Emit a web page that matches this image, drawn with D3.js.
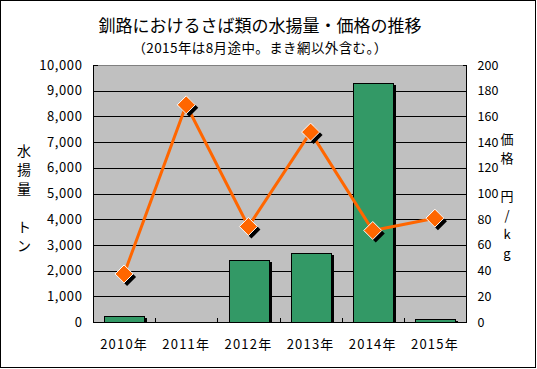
<!DOCTYPE html>
<html><head><meta charset="utf-8">
<script src="https://cdn.jsdelivr.net/npm/d3@7"></script>
<style>html,body{margin:0;padding:0;background:#fff;}svg{display:block;}</style>
</head><body>
<script>
const categories = ["2010年","2011年","2012年","2013年","2014年","2015年"];
const landings = [235, 0, 2405, 2680, 9300, 105];
const prices = [37.4, 169, 74.3, 147.8, 71.2, 80.8];
const leftTicks = [0,1000,2000,3000,4000,5000,6000,7000,8000,9000,10000];
const rightTicks = [0,20,40,60,80,100,120,140,160,180,200];
const title = "釧路におけるさば類の水揚量・価格の推移";
const subtitle = "（2015年は8月途中。まき網以外含む。）";
const leftTitle = ["水","揚","量","","ト","ン"];
const rightTitle = ["価","格","","円","/","k","g"];

const W = 537, H = 369;
const P = {l: 93, r: 466, t: 65, b: 322};
const font = "'Noto Sans CJK JP', sans-serif";

const svg = d3.select("body").append("svg").attr("width", W).attr("height", H);
svg.append("rect").attr("x",0.5).attr("y",0.5).attr("width",W-2).attr("height",H-2)
  .attr("fill","#fff").attr("stroke","#000").attr("shape-rendering","crispEdges");

const x = d3.scaleBand().domain(categories).range([P.l, P.r]).paddingInner(0.36).paddingOuter(0.18);
const xb = d3.scaleBand().domain(categories).range([P.l, P.r]);
const yL = d3.scaleLinear().domain([0, 10000]).range([P.b, P.t]);
const yR = d3.scaleLinear().domain([0, 200]).range([P.b, P.t]);

// plot area
svg.append("rect").attr("x",P.l).attr("y",P.t).attr("width",P.r-P.l).attr("height",P.b-P.t)
  .attr("fill","#C0C0C0").attr("stroke","#808080").attr("shape-rendering","crispEdges");

// gridlines
svg.append("g").selectAll("line").data(leftTicks.filter(d => d > 0 && d < 10000)).join("line")
  .attr("x1",P.l).attr("x2",P.r).attr("y1",d => Math.round(yL(d))+0.5).attr("y2",d => Math.round(yL(d))+0.5)
  .attr("stroke","#000").attr("stroke-width",1);

// bars with shadow
const bars = svg.append("g");
categories.forEach((c,i) => {
  const v = landings[i];
  if (v <= 0) return;
  const bx = Math.round(x(c)), bw = Math.round(x.bandwidth());
  const by = Math.round(yL(v)), bh = Math.round(yL(0)) - by;
  bars.append("rect").attr("x",bx+3).attr("y",by+2).attr("width",bw).attr("height",Math.max(0,bh-2))
    .attr("fill","#000").attr("shape-rendering","crispEdges");
  bars.append("rect").attr("x",bx+0.5).attr("y",by+0.5).attr("width",bw).attr("height",bh)
    .attr("fill","#339966").attr("stroke","#000").attr("stroke-width",1).attr("shape-rendering","crispEdges");
});

// axes
const axL = d3.axisLeft(yL).tickValues(leftTicks).tickSize(-4).tickPadding(11).tickFormat(d3.format(","));
const gL = svg.append("g").attr("transform",`translate(${P.l+0.5},0)`).call(axL);
const axR = d3.axisRight(yR).tickValues(rightTicks).tickSize(-4).tickPadding(11);
const gR = svg.append("g").attr("transform",`translate(${P.r+0.5},0)`).call(axR);
const axB = d3.axisBottom(xb).tickSize(0).tickPadding(20);
const gB = svg.append("g").attr("transform",`translate(0,${P.b+0.5})`).call(axB);
[gL,gR,gB].forEach(g => {
  g.select(".domain").attr("stroke","#000").attr("shape-rendering","crispEdges");
  g.selectAll(".tick line").attr("stroke","#000").attr("shape-rendering","crispEdges");
  g.selectAll("text").attr("font-family",font).attr("font-size",13).attr("fill","#000").attr("letter-spacing",0.6);
});
gR.selectAll("text").attr("font-size",12.5).attr("letter-spacing",0);
gL.select(".domain").attr("d",`M0,${P.t}V${P.b}`);
gR.select(".domain").attr("d",`M0,${P.t}V${P.b}`);
gB.select(".domain").attr("d",`M${P.l},0H${P.r}`);
// category boundary ticks
svg.append("g").selectAll("line").data(categories.slice(1)).join("line")
  .attr("x1",d => Math.round(xb(d))+0.5).attr("x2",d => Math.round(xb(d))+0.5)
  .attr("y1",P.b).attr("y2",P.b-4).attr("stroke","#000");
gB.selectAll("text").attr("dy","0.35em").attr("y",22).attr("letter-spacing",1.2);

// price line
const pts = categories.map((c,i) => [xb(c)+xb.bandwidth()/2, yR(prices[i])]);
svg.append("path").attr("d", d3.line()(pts)).attr("fill","none").attr("stroke","#FF6600").attr("stroke-width",3);
const diamond = (cx,cy,r) => `M${cx},${cy-r}L${cx+r},${cy}L${cx},${cy+r}L${cx-r},${cy}Z`;
const mk = svg.append("g");
pts.forEach(p => {
  mk.append("path").attr("d",diamond(p[0]+3,p[1]+3,9)).attr("fill","#000");
  mk.append("path").attr("d",diamond(p[0],p[1],9)).attr("fill","#FF6600").attr("stroke","#fff").attr("stroke-width",1);
});

// titles
svg.append("text").attr("x",260).attr("y",32).attr("text-anchor","middle").attr("font-family",font)
  .attr("font-size",17).text(title);
svg.append("text").attr("x",260).attr("y",53).attr("text-anchor","middle").attr("font-family",font)
  .attr("font-size",13.5).attr("letter-spacing",0.4).text(subtitle);
leftTitle.forEach((ch,i) => {
  svg.append("text").attr("x",24).attr("y",150+i*19).attr("text-anchor","middle").attr("dominant-baseline","central")
    .attr("font-family",font).attr("font-size",14).text(ch);
});
rightTitle.forEach((ch,i) => {
  svg.append("text").attr("x",507).attr("y",138+i*19).attr("text-anchor","middle").attr("dominant-baseline","central")
    .attr("font-family",font).attr("font-size",13).text(ch);
});
</script>
</body></html>
